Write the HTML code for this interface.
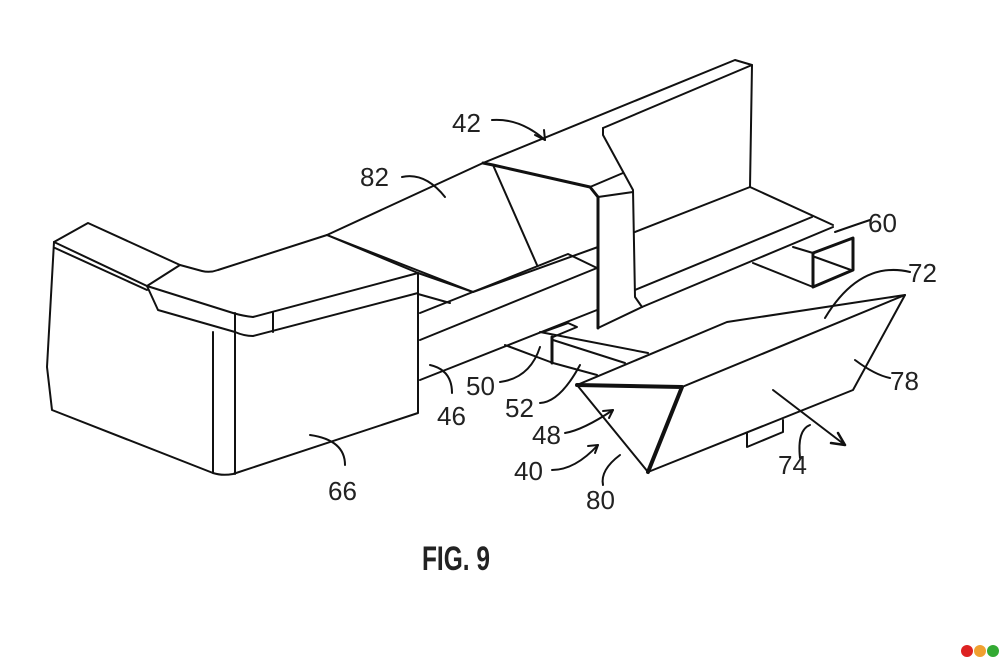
<!DOCTYPE html>
<html><head><meta charset="utf-8"><style>
html,body{margin:0;padding:0;background:#fff;}
svg{display:block}
text{font-family:"Liberation Sans",sans-serif;fill:#222;}
</style></head><body>
<svg width="1000" height="667" viewBox="0 0 1000 667" xmlns="http://www.w3.org/2000/svg">
<g fill="none" stroke="#111" stroke-width="2" stroke-linejoin="round" stroke-linecap="round">
<!-- 82 top edge -->
<path d="M327,235 L483,163"/>
<!-- back wall -->
<path d="M483,163 L735,60 L752,65 L750,187"/>
<path d="M603,128 L603,135 L633,190 L635,297 L642,307"/>
<path d="M603,128 L752,65"/>
<!-- 42 thick -->
<path d="M483,163 L493,165 L590,187 L598,197 L598,328" stroke-width="3"/>
<path d="M590,187 L623,173"/>
<path d="M598,197 L633,192"/>
<path d="M493,165 L537,265"/>
<path d="M598,328 L642,307"/>
<!-- floor -->
<path d="M750,187 L635,232"/>
<path d="M750,187 L833,225"/>
<path d="M812,217 L635,290"/>
<path d="M833,227 L642,307"/>
<!-- tube 60 -->
<path d="M813,253 L853,238 L853,270 L813,287 Z" stroke-width="3"/>
<path d="M815,257 L851,270"/>
<path d="M813,287 L753,263"/>
<path d="M793,247 L813,253"/>
<!-- left block 66 -->
<path d="M54,242 L88,223 L180,265 L202,271 Q210,273 218,270 L327,235 L418,273"/>
<path d="M180,265 L147,286"/>
<path d="M54,242 L147,286 L158,310 L235,332 Q244,336 253,336 L418,293"/>
<path d="M55,248 L147,290"/>
<path d="M147,286 L233,313 Q243,316 253,317 L418,273"/>
<path d="M54,242 L47,367 L52,410 L213,473 Q222,476 233,474 L418,413 L418,273"/>
<path d="M213,332 L213,473"/>
<path d="M235,313 L235,474"/>
<path d="M273,313 L273,332"/>
<!-- beams behind -->
<path d="M327,235 L473,292"/>
<path d="M418,273 L473,292 L598,247"/>
<path d="M418,294 L450,303"/>
<path d="M420,313 L568,254 L597,268"/>
<path d="M420,340 L597,268"/>
<path d="M420,380 L597,310"/>
<!-- bracket 50/52 -->
<path d="M505,345 L553,363 L597,375"/>
<path d="M540,332 L648,353"/>
<path d="M553,340 L625,363"/>
<path d="M543,332 L568,323 L577,327 L553,337"/>
<path d="M552,337 L552,363" stroke-width="3"/>
<!-- box 40 -->
<path d="M577,385 L648,472"/>
<path d="M577,385 L682,387 L648,472" stroke-width="4"/>
<path d="M577,385 L727,322 L905,295 L853,390 L648,472"/>
<path d="M682,387 L905,295"/>
<path d="M747,433 L747,447 L783,432 L783,420"/>
<path d="M773,390 L845,445"/>
<path d="M845,445 L831,443 M845,445 L838,433" stroke-width="2.5"/>
<!-- leaders -->
<path d="M402,177 Q425,172 445,197"/>
<path d="M492,120 Q520,118 545,140"/>
<path d="M545,140 L535,135 M545,140 L544,130"/>
<path d="M870,220 Q855,225 835,232"/>
<path d="M910,272 Q860,260 825,318"/>
<path d="M890,378 Q875,375 855,360"/>
<path d="M800,458 Q797,430 810,425"/>
<path d="M603,485 Q600,470 620,455"/>
<path d="M552,470 Q575,470 598,445"/>
<path d="M598,445 L588,446 M598,445 L595,453"/>
<path d="M565,433 Q583,430 613,410"/>
<path d="M613,410 L603,411 M613,410 L609,418"/>
<path d="M540,403 Q560,402 580,365"/>
<path d="M500,382 Q530,378 540,347"/>
<path d="M452,393 Q452,370 430,365"/>
<path d="M345,465 Q345,440 310,435"/>
</g>
<g font-size="26">
<text x="452" y="132">42</text>
<text x="360" y="186">82</text>
<text x="868" y="232">60</text>
<text x="908" y="282">72</text>
<text x="890" y="390">78</text>
<text x="778" y="474">74</text>
<text x="586" y="509">80</text>
<text x="514" y="480">40</text>
<text x="532" y="444">48</text>
<text x="505" y="417">52</text>
<text x="466" y="395">50</text>
<text x="437" y="425">46</text>
<text x="328" y="500">66</text>
</g>
<text x="422" y="570" font-size="34" font-weight="bold" transform="translate(422,0) scale(0.72,1) translate(-422,0)">FIG. 9</text>
<circle cx="967" cy="651" r="6" fill="#d22"/>
<circle cx="980" cy="651" r="6" fill="#f0a030"/>
<circle cx="993" cy="651" r="6" fill="#3a3"/>
</svg>
</body></html>
